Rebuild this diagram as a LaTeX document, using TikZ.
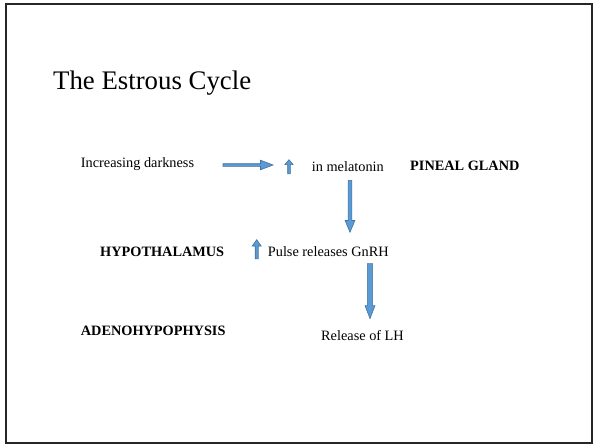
\documentclass[tikz,border=0pt]{standalone}
\usepackage{fontspec}
\setmainfont{Liberation Serif}
\usepackage{xcolor}
\usepackage{tikz}
\usetikzlibrary{shapes.arrows,positioning}

\definecolor{arrowfill}{RGB}{91,155,213}
\definecolor{arrowline}{RGB}{65,113,156}

\begin{document}
\begin{tikzpicture}[
    x=1pt, y=-1pt,
    txt/.style={anchor=base west, inner sep=0pt, font=\fontsize{14.3}{17}\selectfont},
    organ/.style={txt, font=\fontsize{14.3}{17}\selectfont\bfseries},
    blockarrow/.style={single arrow, draw=arrowline, fill=arrowfill, line width=0.6pt,
        anchor=tail, inner xsep=0pt, text height=0pt, text depth=0pt, minimum width=1pt},
]
\useasboundingbox (0,0) rectangle (594,445);

% Slide frame
\draw[line width=1.5pt, black!85] (6,4) rectangle (592,443);

% Title
\node[anchor=base west, inner sep=0pt, font=\fontsize{26.8}{32}\selectfont] (title) at (53,89) {The Estrous Cycle};

% Pineal gland row
\node[txt] (dark) at (80.7,167.3) {Increasing darkness};
\node[blockarrow, inner ysep=1pt, single arrow head extend=3.5pt, single arrow tip angle=42,
    minimum height=50pt] (darkarrow) at (222.7,165) {};
\node[blockarrow, rotate=90, inner ysep=1pt, single arrow head extend=2.8pt, single arrow tip angle=80,
    minimum height=14pt] (melup) at (289,174) {};
\node[txt] (mel) at (311.7,171.7) {in melatonin};
\node[organ] (pineal) at (410,170) {PINEAL GLAND};
\node[blockarrow, rotate=-90, inner ysep=1.6pt, single arrow head extend=3pt, single arrow tip angle=45,
    minimum height=52pt] (melarrow) at (350,180) {};

% Hypothalamus row
\node[organ] (hypo) at (100,256.7) {HYPOTHALAMUS};
\node[blockarrow, rotate=90, inner ysep=1.2pt, single arrow head extend=3pt, single arrow tip angle=71,
    minimum height=19pt] (gnrhup) at (256.7,259) {};
\node[txt] (gnrh) at (267.7,256.7) {Pulse releases GnRH};
\node[blockarrow, rotate=-90, inner ysep=2.3pt, single arrow head extend=2.4pt, single arrow tip angle=42,
    minimum height=55pt] (gnrharrow) at (370,263.3) {};

% Adenohypophysis row
\node[organ] (adeno) at (80.7,335) {ADENOHYPOPHYSIS};
\node[txt] (lh) at (321,340) {Release of LH};

\end{tikzpicture}
\end{document}
